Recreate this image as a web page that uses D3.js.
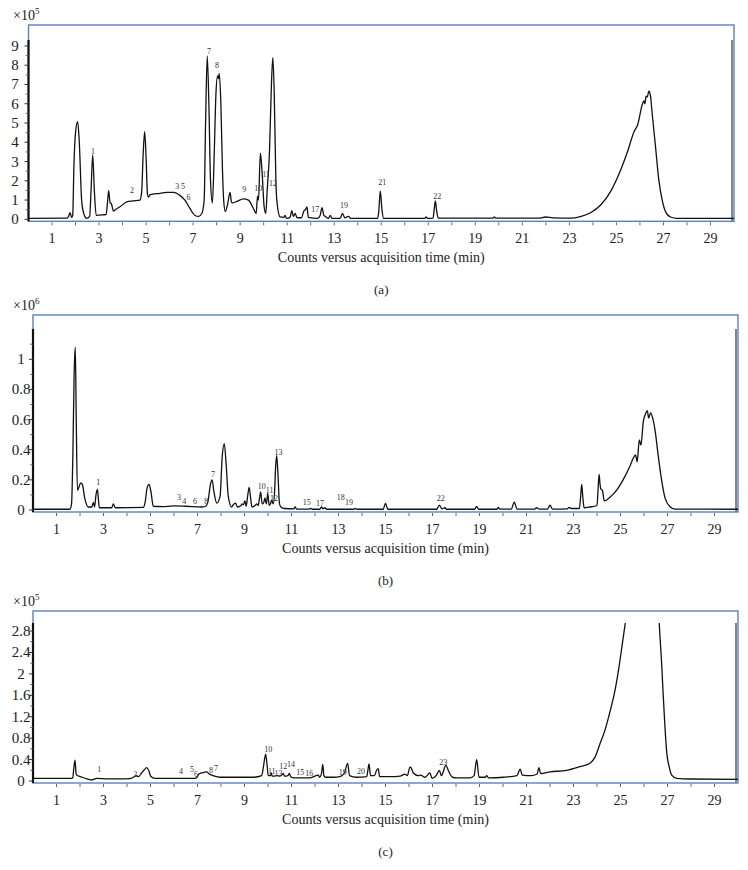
<!DOCTYPE html>
<html>
<head>
<meta charset="utf-8">
<script src="https://cdn.jsdelivr.net/npm/d3@7"></script>
<style>
  body { margin: 0; background: #fff; }
  text { font-family: "Liberation Serif", "Times New Roman", serif; }
</style>
</head>
<body>
<div id="chart"></div>
<script>
const width = 748;
const height = 870;

// x axis (minutes)
const xTickLabels = [1, 3, 5, 7, 9, 11, 13, 15, 17, 19, 21, 23, 25, 27, 29];
const xMinorTicks = d3.range(1, 30);

// panel (a) trace, counts x10^5
const traceA = [[0,0.05],[1.65,0.06],[1.72,0.2],[1.77,0.34],[1.83,0.1],[1.88,0.2],[1.93,2.7],[2.0,4.5],[2.09,5.07],[2.16,4.0],[2.26,0.98],[2.35,0.3],[2.47,0.05],[2.6,0.15],[2.66,1.5],[2.73,3.34],[2.8,1.5],[2.88,0.2],[3.0,0.22],[3.3,0.25],[3.36,0.9],[3.41,1.49],[3.47,0.85],[3.52,0.82],[3.55,0.7],[3.61,0.43],[3.75,0.55],[3.89,0.65],[4.18,0.91],[4.46,0.96],[4.74,1.0],[4.81,1.4],[4.88,3.5],[4.94,4.55],[5.0,3.2],[5.06,1.3],[5.1,1.15],[5.17,1.28],[5.6,1.35],[5.88,1.4],[6.17,1.4],[6.45,1.23],[6.66,0.98],[6.87,0.55],[7.08,0.2],[7.23,0.15],[7.37,0.3],[7.47,1.0],[7.53,5.0],[7.6,8.48],[7.67,6.0],[7.74,2.0],[7.82,0.85],[7.9,3.5],[7.97,6.5],[8.04,7.44],[8.08,7.3],[8.11,7.57],[8.18,6.0],[8.25,2.5],[8.3,0.98],[8.37,0.4],[8.47,0.8],[8.57,1.4],[8.63,0.9],[8.67,0.85],[8.86,0.93],[9.14,1.06],[9.35,1.0],[9.57,0.55],[9.68,0.3],[9.74,1.2],[9.78,1.0],[9.86,3.43],[9.93,2.5],[10.02,0.65],[10.09,0.3],[10.15,1.5],[10.25,3.6],[10.33,7.0],[10.39,8.4],[10.45,6.5],[10.52,2.0],[10.56,0.98],[10.7,0.12],[10.85,0.1],[10.91,0.2],[10.97,0.05],[11.12,0.1],[11.2,0.45],[11.26,0.15],[11.34,0.3],[11.42,0.08],[11.6,0.08],[11.72,0.45],[11.78,0.5],[11.84,0.65],[11.9,0.1],[12.3,0.05],[12.4,0.2],[12.48,0.6],[12.56,0.2],[12.62,0.15],[12.75,0.05],[12.83,0.2],[12.9,0.05],[13.25,0.05],[13.35,0.3],[13.45,0.08],[13.61,0.15],[13.7,0.05],[14.85,0.05],[14.9,0.5],[14.96,1.47],[15.03,0.5],[15.1,0.05],[16.85,0.05],[16.91,0.12],[16.97,0.05],[17.2,0.06],[17.25,0.5],[17.3,0.95],[17.36,0.4],[17.42,0.06],[19.75,0.06],[19.81,0.12],[19.87,0.06],[21.7,0.06],[22.0,0.12],[22.3,0.07],[23.04,0.06],[23.47,0.14],[23.9,0.34],[24.33,0.74],[24.75,1.44],[25.18,2.56],[25.47,3.51],[25.75,4.55],[25.9,4.9],[26.11,6.0],[26.17,6.15],[26.21,6.0],[26.26,6.4],[26.31,6.35],[26.38,6.65],[26.45,6.4],[26.52,5.5],[26.66,3.8],[26.8,2.07],[26.94,1.03],[27.08,0.42],[27.3,0.12],[27.58,0.05],[30,0.05]];
const labelsA = [["1",2.74,3.55],["2",4.4,1.52],["3",6.32,1.73],["5",6.57,1.73],["6",6.8,1.16],["7",7.68,8.74],["8",8.02,8.0],["9",9.17,1.57],["10",9.77,1.62],["11",10.1,2.35],["12",10.4,1.88],["17",12.19,0.53],["19",13.42,0.74],["21",15.04,1.94],["22",17.38,1.21]];
const yMajorA = [0, 1, 2, 3, 4, 5, 6, 7, 8, 9];
const yMinorA = d3.range(0.5, 9.3, 1);

// panel (b) trace, counts x10^6
const traceB = [[0,0.005],[1.57,0.005],[1.64,0.04],[1.7,0.4],[1.75,0.9],[1.8,1.08],[1.84,0.6],[1.89,0.13],[1.95,0.15],[2.03,0.18],[2.1,0.17],[2.2,0.08],[2.35,0.02],[2.5,0.02],[2.57,0.05],[2.62,0.02],[2.68,0.1],[2.74,0.137],[2.78,0.08],[2.82,0.015],[3.35,0.015],[3.42,0.04],[3.5,0.015],[4.7,0.018],[4.77,0.05],[4.86,0.15],[4.94,0.17],[5.02,0.12],[5.12,0.025],[5.5,0.022],[6.0,0.027],[6.5,0.025],[7.2,0.02],[7.35,0.025],[7.45,0.06],[7.55,0.17],[7.62,0.2],[7.7,0.12],[7.82,0.045],[7.96,0.09],[8.05,0.35],[8.14,0.44],[8.22,0.3],[8.31,0.09],[8.45,0.02],[8.55,0.04],[8.62,0.045],[8.7,0.02],[8.85,0.03],[8.9,0.04],[8.95,0.035],[9.02,0.06],[9.07,0.025],[9.14,0.1],[9.2,0.15],[9.26,0.08],[9.32,0.02],[9.45,0.03],[9.52,0.04],[9.58,0.03],[9.64,0.08],[9.69,0.12],[9.75,0.04],[9.82,0.05],[9.87,0.08],[9.93,0.04],[9.99,0.11],[10.05,0.03],[10.1,0.04],[10.16,0.065],[10.22,0.04],[10.28,0.12],[10.33,0.3],[10.37,0.36],[10.42,0.25],[10.49,0.04],[10.55,0.02],[10.7,0.01],[11.1,0.008],[11.15,0.02],[11.22,0.006],[11.75,0.006],[11.8,0.01],[11.9,0.005],[12.2,0.005],[12.28,0.02],[12.34,0.008],[12.42,0.015],[12.5,0.005],[13.65,0.005],[13.7,0.01],[13.8,0.005],[14.9,0.005],[15.0,0.044],[15.1,0.005],[17.18,0.005],[17.29,0.033],[17.4,0.008],[17.53,0.015],[17.6,0.005],[18.8,0.005],[18.88,0.024],[18.96,0.005],[19.75,0.005],[19.8,0.018],[19.86,0.006],[20.35,0.006],[20.48,0.052],[20.6,0.006],[21.35,0.006],[21.43,0.015],[21.55,0.006],[21.9,0.006],[22.0,0.033],[22.1,0.006],[22.75,0.008],[22.8,0.018],[22.9,0.01],[23.25,0.01],[23.3,0.08],[23.35,0.17],[23.4,0.08],[23.45,0.015],[23.7,0.02],[24.0,0.03],[24.05,0.15],[24.09,0.237],[24.13,0.17],[24.16,0.14],[24.23,0.13],[24.31,0.06],[24.55,0.084],[24.83,0.13],[25.11,0.2],[25.4,0.29],[25.54,0.343],[25.64,0.365],[25.71,0.32],[25.8,0.465],[25.87,0.43],[25.97,0.587],[26.07,0.64],[26.14,0.66],[26.2,0.61],[26.28,0.645],[26.37,0.61],[26.47,0.53],[26.61,0.354],[26.76,0.188],[26.9,0.077],[27.11,0.022],[27.32,0.006],[30,0.005]];
const labelsB = [["1",2.78,0.188],["3",6.21,0.088],["4",6.44,0.062],["6",6.89,0.062],["8",7.37,0.062],["7",7.66,0.239],["10",9.73,0.161],["11",10.07,0.133],["12",10.26,0.078],["13",10.45,0.387],["15",11.65,0.055],["17",12.21,0.048],["18",13.1,0.084],["19",13.45,0.051],["22",17.35,0.082]];
const yMajorB = [0, 0.2, 0.4, 0.6, 0.8, 1];
const yMinorB = [0.1, 0.3, 0.5, 0.7, 0.9, 1.1];

// panel (c) trace, counts x10^5
const traceC = [[0,0.05],[1.65,0.05],[1.69,0.06],[1.74,0.25],[1.79,0.39],[1.83,0.15],[1.86,0.11],[1.95,0.09],[2.1,0.07],[2.28,0.04],[2.5,0.02],[2.71,0.05],[3.2,0.04],[3.7,0.04],[4.13,0.045],[4.27,0.07],[4.41,0.1],[4.48,0.08],[4.62,0.15],[4.72,0.2],[4.84,0.25],[4.92,0.2],[5.01,0.09],[5.19,0.05],[6.0,0.05],[6.89,0.05],[6.96,0.06],[7.06,0.13],[7.17,0.15],[7.28,0.16],[7.39,0.17],[7.5,0.13],[7.67,0.1],[7.96,0.07],[8.52,0.07],[9.37,0.07],[9.73,0.1],[9.8,0.25],[9.9,0.5],[9.96,0.3],[10.01,0.1],[10.1,0.1],[10.14,0.15],[10.18,0.09],[10.23,0.09],[10.4,0.1],[10.5,0.09],[10.6,0.12],[10.65,0.14],[10.7,0.09],[10.85,0.1],[10.91,0.14],[10.97,0.08],[11.1,0.06],[11.36,0.06],[11.8,0.06],[12.14,0.11],[12.2,0.07],[12.28,0.15],[12.33,0.31],[12.38,0.1],[12.45,0.07],[12.8,0.07],[13.06,0.08],[13.25,0.15],[13.39,0.33],[13.47,0.1],[13.77,0.07],[14.2,0.08],[14.25,0.2],[14.3,0.32],[14.36,0.1],[14.53,0.1],[14.62,0.2],[14.69,0.23],[14.75,0.08],[15.19,0.08],[15.62,0.09],[15.83,0.13],[15.93,0.1],[16.04,0.26],[16.1,0.24],[16.18,0.15],[16.4,0.1],[16.5,0.11],[16.68,0.07],[16.89,0.15],[16.98,0.05],[17.17,0.11],[17.29,0.2],[17.38,0.1],[17.57,0.29],[17.67,0.2],[17.77,0.11],[17.85,0.07],[18.03,0.06],[18.6,0.06],[18.77,0.1],[18.88,0.4],[18.98,0.07],[19.25,0.07],[19.31,0.1],[19.38,0.06],[20.02,0.07],[20.59,0.1],[20.73,0.22],[20.82,0.11],[21.2,0.1],[21.45,0.13],[21.53,0.25],[21.6,0.14],[22.0,0.17],[22.71,0.2],[23.28,0.27],[23.7,0.33],[23.92,0.45],[24.13,0.7],[24.34,0.95],[24.55,1.29],[24.77,1.7],[24.94,2.14],[25.08,2.57],[25.2,2.94],[25.5,4.0],[25.9,5.8],[26.3,6.6],[26.5,4.8],[26.65,2.94],[26.75,2.2],[26.82,1.58],[26.9,0.95],[26.97,0.52],[27.07,0.27],[27.18,0.11],[27.39,0.05],[27.96,0.037],[30,0.03]];
const labelsC = [["1",2.82,0.22],["2",4.35,0.14],["4",6.3,0.19],["5",6.77,0.22],["6",6.94,0.14],["8",7.57,0.2],["7",7.79,0.24],["10",10.01,0.59],["11",10.16,0.19],["13",10.45,0.15],["12",10.65,0.28],["14",10.98,0.31],["15",11.37,0.16],["16",11.76,0.15],["19",13.18,0.17],["20",13.96,0.19],["23",17.46,0.36]];
const yMajorC = [0, 0.4, 0.8, 1.2, 1.6, 2, 2.4, 2.8];
const yMinorC = [0.2, 0.6, 1.0, 1.4, 1.8, 2.2, 2.6];

const frameColor = "#5b80c2";

const svg = d3.select("#chart").append("svg")
    .attr("width", width)
    .attr("height", height);

// draws one chromatogram panel
function drawPanel(p) {
    const x = d3.scaleLinear().domain([0, 30]).range([p.left, p.right]);
    const y = d3.scaleLinear().domain([0, p.ymax]).range([p.base, p.axisTop]);
    const g = svg.append("g");

    // blue frame
    g.append("rect")
        .attr("x", p.left)
        .attr("y", p.boxTop)
        .attr("width", p.right - p.left)
        .attr("height", p.base + 2 - p.boxTop)
        .attr("fill", "none")
        .attr("stroke", frameColor)
        .attr("stroke-width", 1.4);

    // black left axis, gray right rule
    g.append("line")
        .attr("x1", p.left).attr("x2", p.left)
        .attr("y1", p.axisTop).attr("y2", p.base + 2)
        .attr("stroke", "#111").attr("stroke-width", 2.2);
    g.append("line")
        .attr("x1", p.right - 2).attr("x2", p.right - 2)
        .attr("y1", p.axisTop).attr("y2", p.base + 2)
        .attr("stroke", "#777").attr("stroke-width", 1.8);

    // y ticks
    g.selectAll(".ymaj").data(p.yMajor).enter().append("line")
        .attr("x1", p.left - 4).attr("x2", p.left)
        .attr("y1", d => y(d)).attr("y2", d => y(d))
        .attr("stroke", "#333").attr("stroke-width", 1);
    g.selectAll(".ymin").data(p.yMinor).enter().append("line")
        .attr("x1", p.left - 3).attr("x2", p.left)
        .attr("y1", d => y(d)).attr("y2", d => y(d))
        .attr("stroke", "#555").attr("stroke-width", 0.8);
    g.selectAll(".ylab").data(p.yMajor).enter().append("text")
        .attr("x", p.yLabelX)
        .attr("y", d => y(d) + 5)
        .attr("text-anchor", "middle")
        .attr("font-size", 15)
        .attr("fill", "#222")
        .text(d => d);

    // x ticks
    g.selectAll(".xt").data(xMinorTicks).enter().append("line")
        .attr("x1", d => x(d)).attr("x2", d => x(d))
        .attr("y1", p.base + 3).attr("y2", p.base + 6)
        .attr("stroke", "#555").attr("stroke-width", 0.9);
    g.selectAll(".xlab").data(xTickLabels).enter().append("text")
        .attr("x", d => x(d))
        .attr("y", p.base + 24)
        .attr("text-anchor", "middle")
        .attr("font-size", 14)
        .attr("fill", "#222")
        .text(d => d);

    // exponent
    const ex = g.append("text")
        .attr("x", 13)
        .attr("y", p.boxTop - 5)
        .attr("font-size", 14)
        .attr("fill", "#222");
    ex.append("tspan").text("×10");
    ex.append("tspan").attr("dy", -6).attr("font-size", 9).text(p.exp);

    // trace
    const clipId = "clip" + p.name;
    svg.append("clipPath").attr("id", clipId).append("rect")
        .attr("x", p.left).attr("y", p.axisTop)
        .attr("width", p.right - p.left).attr("height", p.base + 2 - p.axisTop);
    const line = d3.line()
        .x(d => x(d[0]))
        .y(d => y(d[1]))
        .curve(d3.curveMonotoneX);
    g.append("path")
        .datum(p.trace)
        .attr("clip-path", "url(#" + clipId + ")")
        .attr("d", line)
        .attr("fill", "none")
        .attr("stroke", "#111")
        .attr("stroke-width", 1.3);

    // peak numbers
    g.selectAll(".pk").data(p.labels).enter().append("text")
        .attr("x", d => x(d[1]))
        .attr("y", d => y(d[2]) + 3)
        .attr("text-anchor", "middle")
        .attr("font-size", 8)
        .attr("fill", "#333")
        .text(d => d[0]);

    // axis title and panel letter
    g.append("text")
        .attr("x", (p.left + p.right) / 2)
        .attr("y", p.base + 43)
        .attr("text-anchor", "middle")
        .attr("font-size", 14)
        .attr("fill", "#222")
        .text("Counts versus acquisition time (min)");
    g.append("text")
        .attr("x", (p.left + p.right) / 2)
        .attr("y", p.base + 75)
        .attr("text-anchor", "middle")
        .attr("font-size", 13)
        .attr("fill", "#222")
        .text("(" + p.name + ")");
}

drawPanel({name: "a", left: 28.5, right: 734, boxTop: 25, axisTop: 40, base: 219.3, ymax: 9.31,
    yLabelX: 15, exp: "5", trace: traceA, labels: labelsA, yMajor: yMajorA, yMinor: yMinorA});
drawPanel({name: "b", left: 33, right: 738, boxTop: 315, axisTop: 329, base: 510, ymax: 1.201,
    yLabelX: 21, exp: "6", trace: traceB, labels: labelsB, yMajor: yMajorB, yMinor: yMinorB});
drawPanel({name: "c", left: 33, right: 738, boxTop: 611, axisTop: 623, base: 781, ymax: 2.95,
    yLabelX: 21, exp: "5", trace: traceC, labels: labelsC, yMajor: yMajorC, yMinor: yMinorC});
</script>
</body>
</html>
